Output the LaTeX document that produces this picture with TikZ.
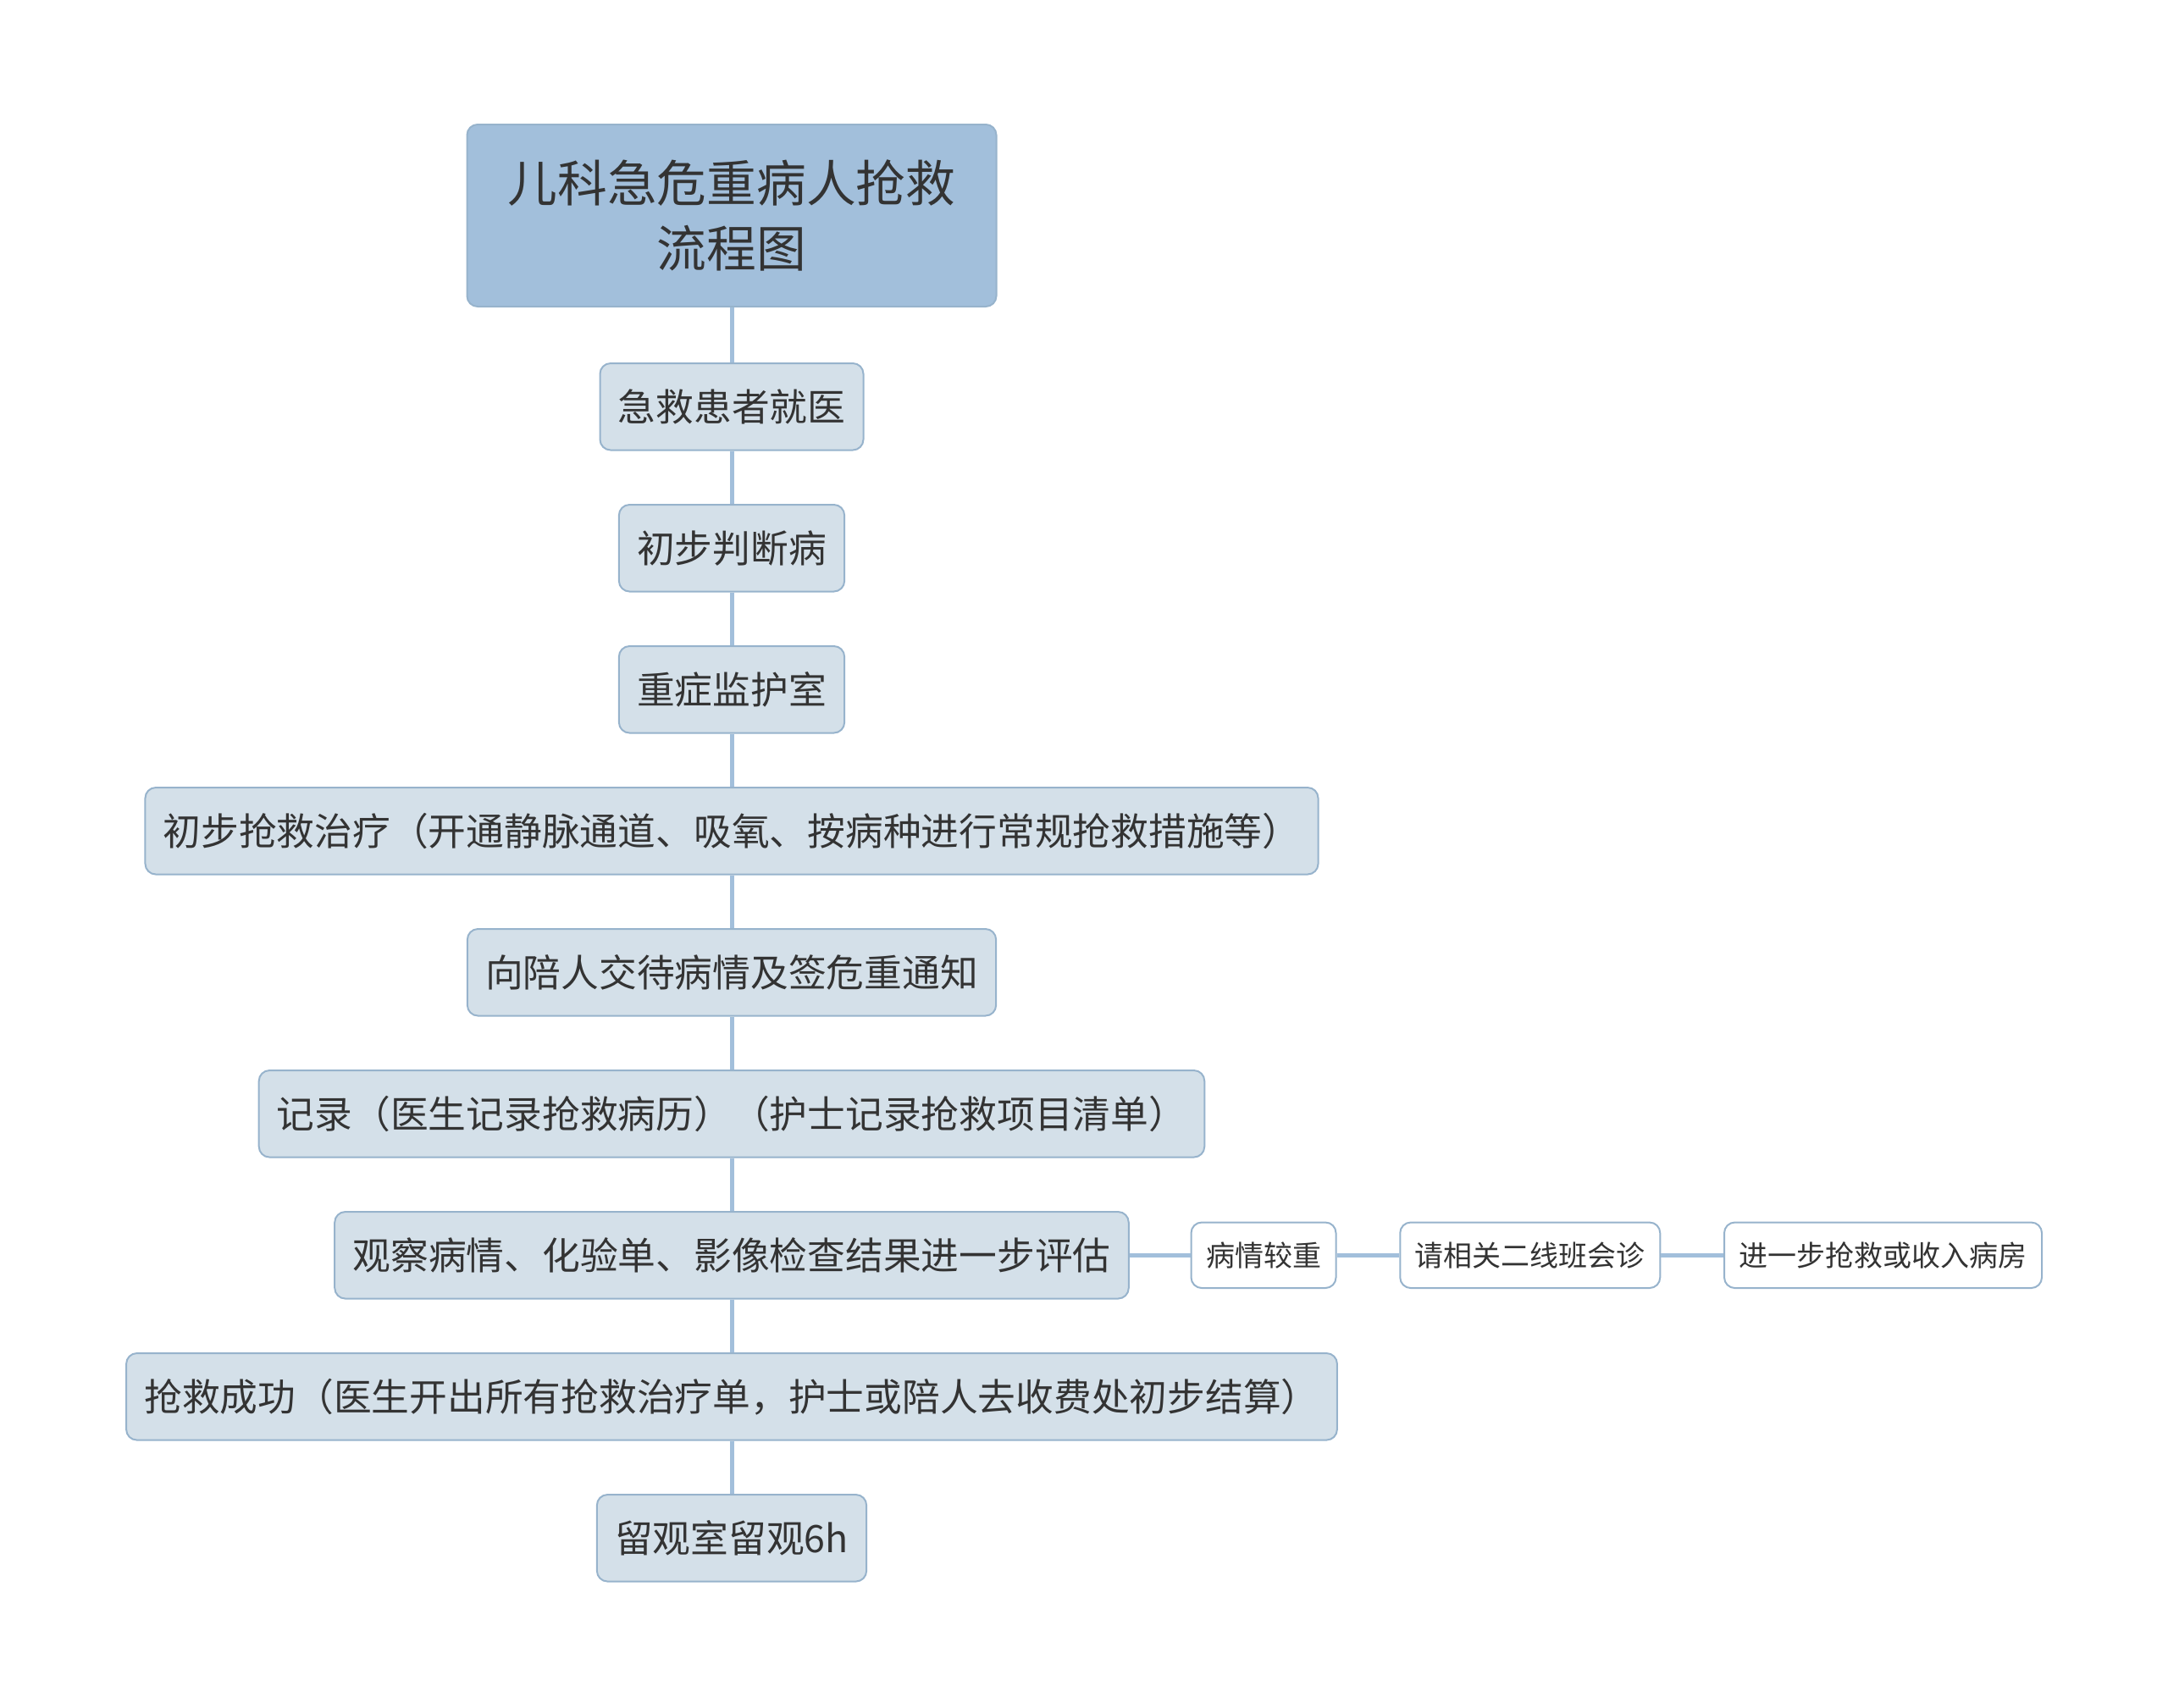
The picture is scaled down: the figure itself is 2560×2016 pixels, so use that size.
\documentclass[tikz,border=0pt]{standalone}
\usepackage{fontspec}
\setmainfont{Noto Sans CJK SC}
\usepackage{tikz}
\usetikzlibrary{positioning}
\usepackage{xcolor}
\definecolor{titleblue}{HTML}{A2BFDB}
\definecolor{stagefill}{HTML}{D4E0E9}
\definecolor{stageline}{HTML}{97B3CC}
\definecolor{linkblue}{HTML}{A2BFDB}
\definecolor{inktext}{HTML}{333333}

\begin{document}
\begin{tikzpicture}[x=0.4pt,y=-0.4pt,node distance=25pt,auto]
  \tikzstyle{every node}=[text=inktext]
  \tikzstyle{root}=[draw=stageline,line width=0.8pt,fill=titleblue,rounded corners=5pt,
    minimum width=250pt,minimum height=86pt,align=center,font=\fontsize{23.5}{31}\selectfont]
  \tikzstyle{stage}=[draw=stageline,line width=0.8pt,fill=stagefill,rounded corners=5pt,
    minimum height=41pt,inner xsep=8.5pt,inner ysep=0pt,font=\fontsize{17.9}{21}\selectfont]
  \tikzstyle{branch}=[draw=stageline,line width=0.8pt,fill=white,rounded corners=5pt,
    minimum height=31pt,inner xsep=7pt,inner ysep=0pt,font=\fontsize{13.6}{16}\selectfont]

  \useasboundingbox (0,0) rectangle (2560,2016);

  \node[root]  (title) at (864,254.5)   {儿科急危重病人抢救\\流程图};
  \node[stage] (visit)    [below=26pt of title] {急救患者就医};
  \node[stage] (judge)    [below=of visit]    {初步判断病};
  \node[stage] (icu)      [below=of judge]    {重症监护室};
  \node[stage] (firstaid) [below=of icu]      {初步抢救治疗（开通静脉通道、吸氧、按病种进行常规抢救措施等）};
  \node[stage] (notify)   [below=of firstaid] {向陪人交待病情及签危重通知};
  \node[stage] (record)   [below=of notify]   {记录（医生记录抢救病历）（护士记录抢救项目清单）};
  \node[stage] (observe)  [below=of record]   {观察病情、化验单、影像检查结果进一步评估};
  \node[stage] (success)  [below=of observe]  {抢救成功（医生开出所有抢救治疗单，护士或陪人去收费处初步结算）};
  \node[stage] (stay)     [below=of success]  {留观室留观6h};

  \node[branch] (severe)  [right=28.7pt of observe] {病情较重};
  \node[branch] (consult) [right=29.5pt of severe]  {请相关二线班会诊};
  \node[branch] (admit)   [right=29.5pt of consult] {进一步抢救或收入病房};

  \path[draw=linkblue,line width=2pt]
  (title) edge (visit)
  (visit) edge (judge)
  (judge) edge (icu)
  (icu) edge (firstaid)
  (firstaid) edge (notify)
  (notify) edge (record)
  (record) edge (observe)
  (observe) edge (success)
  (success) edge (stay)
  (observe) edge (severe)
  (severe) edge (consult)
  (consult) edge (admit)
  ;
\end{tikzpicture}
\end{document}
